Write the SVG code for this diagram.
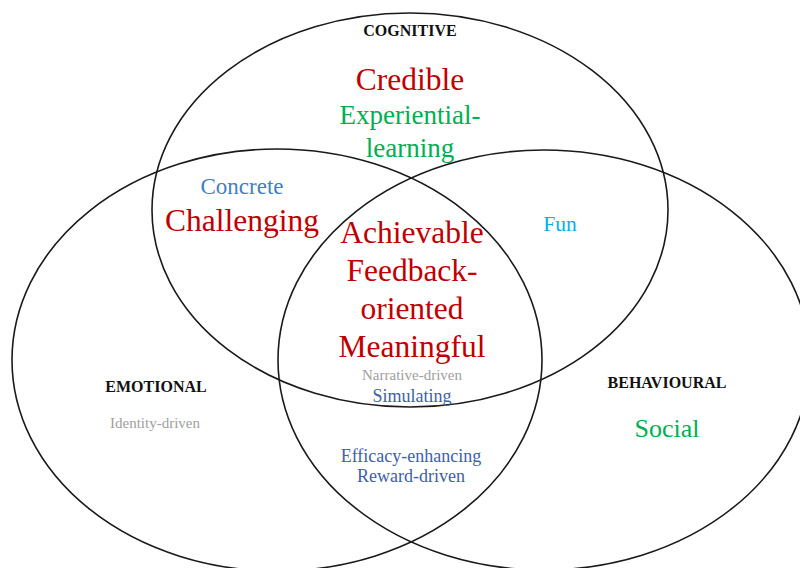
<svg xmlns="http://www.w3.org/2000/svg" width="800" height="568" viewBox="0 0 800 568">
<style>
.c{fill:none;stroke:#1a1a1a;stroke-width:1.6}
text{font-family:"Liberation Serif","Times New Roman",serif;text-anchor:middle}
.h{font-weight:bold;font-size:16px;fill:#111}
.red{fill:#C00000;font-size:31.5px}
.grn{fill:#00B050}
.gry{fill:#A0A0A0;font-size:15px}
.blu{fill:#4060A8;font-size:18px}
</style>
<rect width="800" height="568" fill="#fff"/>
<g id="connectors"></g>
<g id="cognitive">
<ellipse class="c" cx="410" cy="210" rx="258" ry="197"/>
<text class="h" x="410" y="36">COGNITIVE</text>
<text class="red" x="410" y="90">Credible</text>
<text class="grn" x="410" y="124" font-size="27">Experiential-</text>
<text class="grn" x="410" y="157" font-size="27">learning</text>
</g>
<g id="emotional">
<ellipse class="c" cx="277" cy="360" rx="265" ry="211"/>
<text class="h" x="156" y="392">EMOTIONAL</text>
<text class="gry" x="155" y="428">Identity-driven</text>
</g>
<g id="behavioural">
<ellipse class="c" cx="544" cy="360" rx="266" ry="210"/>
<text class="h" x="667" y="388">BEHAVIOURAL</text>
<text class="grn" x="667" y="437" font-size="26">Social</text>
</g>
<g id="cognitive-emotional">
<text x="242" y="194" font-size="23" fill="#3F7FC6">Concrete</text>
<text class="red" x="242" y="231">Challenging</text>
</g>
<g id="cognitive-behavioural">
<text x="560" y="231" font-size="21.5" fill="#00B0F0">Fun</text>
</g>
<g id="centre">
<text class="red" x="412" y="243">Achievable</text>
<text class="red" x="412" y="281">Feedback-</text>
<text class="red" x="412" y="319">oriented</text>
<text class="red" x="412" y="357">Meaningful</text>
<text class="gry" x="412" y="380">Narrative-driven</text>
<text class="blu" x="412" y="402">Simulating</text>
</g>
<g id="emotional-behavioural">
<text class="blu" x="411" y="462">Efficacy-enhancing</text>
<text class="blu" x="411" y="482">Reward-driven</text>
</g>
</svg>
